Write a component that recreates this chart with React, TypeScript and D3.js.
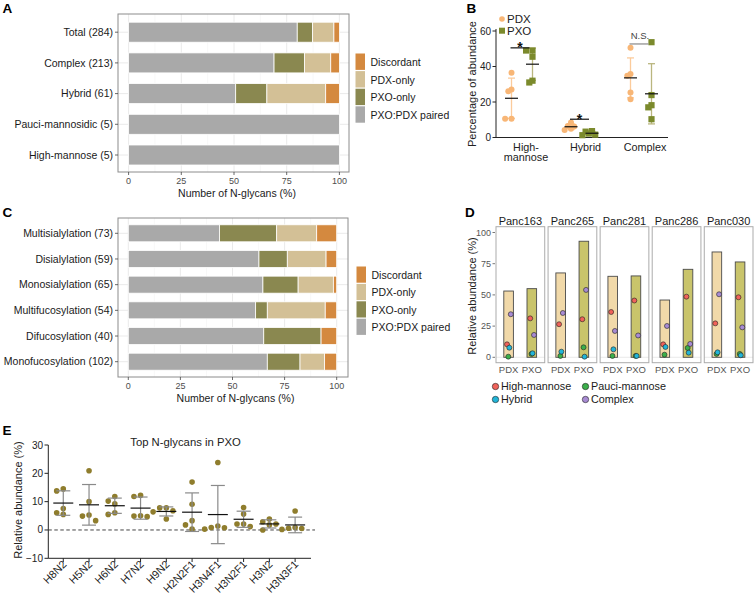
import React from 'react';
import * as d3 from 'd3';

// ---------------- Panel A data ----------------
const A_CATEGORIES = ['Total (284)', 'Complex (213)', 'Hybrid (61)', 'Pauci-mannosidic (5)', 'High-mannose (5)'];
const A_PAIRED = [80.0, 69.0, 50.8, 100, 100];
const A_PXO_ONLY = [7.3, 14.4, 14.8, 0, 0];
const A_PDX_ONLY = [10.1, 12.5, 27.9, 0, 0];
const A_DISCORDANT = [2.6, 4.1, 6.5, 0, 0];

// ---------------- Panel C data ----------------
const C_CATEGORIES = ['Multisialylation (73)', 'Disialylation (59)', 'Monosialylation (65)', 'Multifucosylation (54)', 'Difucosylation (40)', 'Monofucosylation (102)'];
const C_PAIRED = [43.8, 62.7, 64.6, 61.1, 65.0, 66.7];
const C_PXO_ONLY = [27.4, 13.6, 16.9, 5.6, 27.5, 15.7];
const C_PDX_ONLY = [19.2, 18.6, 16.9, 27.8, 0, 11.8];
const C_DISCORDANT = [9.6, 5.1, 1.6, 5.5, 7.5, 5.8];

const STACK_KEYS = ['PXO:PDX paired', 'PXO-only', 'PDX-only', 'Discordant'];
const STACK_COLORS = ['#a9a9a9', '#8a8850', '#d3c096', '#d4893f'];
const STACK_TICKS = [0, 25, 50, 75, 100];

// ---------------- Panel B data ----------------
const B_CATEGORIES = ['High-mannose', 'Hybrid', 'Complex'];
const B_PDX = [
  [36.5, 27, 26, 10.5, 10.5],
  [8.4, 6.5, 6.2, 5.0, 4.2],
  [50.5, 35.8, 34.8, 25.4, 21.5],
];
const B_PXO = [
  [49, 49, 45.5, 32, 31],
  [3.6, 3.3, 2.2, 1.6, 1.3],
  [53.7, 23.9, 18.2, 17.0, 10.3],
];
const B_SIGNIF = ['*', '*', 'N.S.'];
const B_SIGNIF_Y = [50.5, 10.3, 52.7];
const B_TICKS = [0, 20, 40, 60];

// ---------------- Panel D data ----------------
const D_SAMPLES = ['Panc163', 'Panc265', 'Panc281', 'Panc286', 'Panc030'];
const D_SOURCES = ['PDX', 'PXO'];
const D_TYPES = ['High-mannose', 'Pauci-mannose', 'Hybrid', 'Complex'];
const D_HIGHMAN_PDX = [10.4, 26.5, 36.3, 10.4, 27.2];
const D_HIGHMAN_PXO = [31.2, 30.5, 45.5, 48.6, 48.1];
const D_PAUCI_PDX = [0.5, 1.1, 1.1, 2.1, 2.7];
const D_PAUCI_PXO = [2.7, 8.0, 1.1, 7.5, 2.7];
const D_HYBRID_PDX = [7.7, 4.5, 6.4, 8.3, 4.0];
const D_HYBRID_PXO = [3.2, 0.5, 1.1, 3.7, 1.6];
const D_COMPLEX_PDX = [34.5, 35.5, 21.1, 25.1, 50.5];
const D_COMPLEX_PXO = [17.9, 54.0, 17.5, 10.7, 24.0];
const D_TICKS = [0, 25, 50, 75, 100];

// ---------------- Panel E data ----------------
const E_GLYCANS = ['H8N2', 'H5N2', 'H6N2', 'H7N2', 'H9N2', 'H2N2F1', 'H3N4F1', 'H3N2F1', 'H3N2', 'H3N3F1'];
const E_VALUES = [
  [14.5, 13.8, 7.6, 6.1, 5.5],
  [20.9, 10.0, 5.3, 4.9, 3.3],
  [11.8, 10.2, 9.2, 6.1, 5.5],
  [12.2, 11.8, 5.0, 4.9, 4.7],
  [7.8, 7.8, 6.8, 6.4, 3.9],
  [16.9, 9.1, 3.3, 1.8, 0.3],
  [23.8, 1.4, 0.9, 0.8, 0.3],
  [7.9, 5.6, 2.1, 2.1, 1.2],
  [3.9, 2.9, 2.1, 1.8, 0.0],
  [6.7, 0.9, 0.6, 0.5, 0.2],
];
const E_TICKS = [-10, 0, 10, 20, 30];

// ---------------- styles ----------------
const FONT = "'Liberation Sans', Arial, Helvetica, sans-serif";
const PDX_COLOR = '#f8b676';
const PXO_COLOR = '#7b8a2c';
const D_TYPE_COLORS = ['#f0625a', '#3baf4a', '#21b5d8', '#a88bd3'];
const D_BAR_COLORS = ['#f1d9a9', '#c9c46b'];

type Placed = { dx: number; y: number; v: number };
function swarm(vals: number[], y: (v: number) => number, minDist: number, step: number): Placed[] {
  const placed: Placed[] = [];
  vals.forEach((v) => {
    const py = y(v);
    const cands = [0, -1, 1, -2, 2, -3, 3];
    for (const k of cands) {
      const px = k * step;
      if (placed.every((p) => Math.hypot(p.dx - px, p.y - py) >= minDist)) {
        placed.push({ dx: px, y: py, v });
        return;
      }
    }
    placed.push({ dx: 0, y: py, v });
  });
  return placed;
}

const stackGen = d3.stack<any>().keys(STACK_KEYS);

function buildRows(cats: string[], paired: number[], pxo: number[], pdx: number[], disc: number[]) {
  return cats.map((c, i) => ({
    cat: c,
    'PXO:PDX paired': paired[i],
    'PXO-only': pxo[i],
    'PDX-only': pdx[i],
    Discordant: disc[i],
  }));
}

function StackPanel(props: {
  rows: any[];
  frame: { l: number; r: number; t: number; b: number };
  xRange: [number, number];
  yRange: [number, number];
  barH: number;
  legendX: number;
  legendY0: number;
  legendStep: number;
}) {
  const { rows, frame, xRange, yRange, barH, legendX, legendY0, legendStep } = props;
  const x = d3.scaleLinear().domain([0, 100]).range(xRange);
  const y = d3.scalePoint<string>().domain(rows.map((r) => r.cat)).range(yRange);
  const series = stackGen(rows);
  const minor = STACK_TICKS.slice(1).map((t, i) => (t + STACK_TICKS[i]) / 2);
  const legendOrder = [3, 2, 1, 0];
  return (
    <g>
      <rect x={frame.l} y={frame.t} width={frame.r - frame.l} height={frame.b - frame.t} fill="#fff" />
      {minor.map((t) => (
        <line key={'m' + t} x1={x(t)} x2={x(t)} y1={frame.t} y2={frame.b} stroke="#f3f3f3" strokeWidth={0.6} />
      ))}
      {STACK_TICKS.map((t) => (
        <line key={'g' + t} x1={x(t)} x2={x(t)} y1={frame.t} y2={frame.b} stroke="#e8e8e8" strokeWidth={0.9} />
      ))}
      {rows.map((r) => (
        <line key={'h' + r.cat} x1={frame.l} x2={frame.r} y1={y(r.cat)} y2={y(r.cat)} stroke="#e8e8e8" strokeWidth={0.9} />
      ))}
      {series.map((s, si) =>
        s.map((d, i) =>
          d[1] - d[0] > 0 ? (
            <rect
              key={si + '-' + i}
              x={x(d[0])}
              y={(y(rows[i].cat) as number) - barH / 2}
              width={x(d[1]) - x(d[0])}
              height={barH}
              fill={STACK_COLORS[si]}
              stroke="#fff"
              strokeWidth={0.8}
            />
          ) : null
        )
      )}
      <rect x={frame.l} y={frame.t} width={frame.r - frame.l} height={frame.b - frame.t} fill="none" stroke="#8c8c8c" strokeWidth={1} />
      {rows.map((r) => (
        <g key={'yl' + r.cat}>
          <line x1={frame.l - 3} x2={frame.l} y1={y(r.cat)} y2={y(r.cat)} stroke="#444" strokeWidth={0.8} />
          <text x={frame.l - 5} y={y(r.cat)} dy="0.35em" textAnchor="end" fontSize={10.5} fill="#1a1a1a">
            {r.cat}
          </text>
        </g>
      ))}
      {STACK_TICKS.map((t) => (
        <g key={'xl' + t}>
          <line x1={x(t)} x2={x(t)} y1={frame.b} y2={frame.b + 3} stroke="#444" strokeWidth={0.8} />
          <text x={x(t)} y={frame.b + 12} textAnchor="middle" fontSize={9} fill="#4d4d4d">
            {t}
          </text>
        </g>
      ))}
      <text x={(xRange[0] + xRange[1]) / 2 + 3} y={frame.b + 25} textAnchor="middle" fontSize={10.5} fill="#1a1a1a">
        Number of N-glycans (%)
      </text>
      {legendOrder.map((k, i) => (
        <g key={'lg' + k}>
          <rect x={legendX} y={legendY0 + i * legendStep} width={9.5} height={legendStep - 1.2} fill={STACK_COLORS[k]} />
          <text x={legendX + 15} y={legendY0 + i * legendStep + legendStep / 2} dy="0.35em" fontSize={10.5} fill="#1a1a1a">
            {STACK_KEYS[k]}
          </text>
        </g>
      ))}
    </g>
  );
}

function PanelB() {
  const y = d3.scaleLinear().domain([0, 60]).range([137.5, 31]);
  const gx = d3.scalePoint<string>().domain(B_CATEGORIES).range([522, 641]);
  const off = 10.5;
  return (
    <g>
      <line x1={496} x2={496} y1={29} y2={137.5} stroke="#222" strokeWidth={1} />
      <line x1={496} x2={668} y1={137.5} y2={137.5} stroke="#222" strokeWidth={1} />
      {B_TICKS.map((t) => (
        <g key={t}>
          <line x1={492.5} x2={496} y1={y(t)} y2={y(t)} stroke="#222" strokeWidth={1} />
          <text x={491} y={y(t)} dy="0.35em" textAnchor="end" fontSize={10} fill="#222">
            {t}
          </text>
        </g>
      ))}
      <text transform="translate(476,84) rotate(-90)" textAnchor="middle" fontSize={11} fill="#222">
        Percentage of abundance
      </text>
      {B_CATEGORIES.map((c, ci) => {
        const cx = gx(c) as number;
        const groups = [
          { vals: B_PDX[ci], x: cx - off, color: PDX_COLOR, bar: '#fbcb9b', shape: 'circle' },
          { vals: B_PXO[ci], x: cx + off, color: PXO_COLOR, bar: '#bab67f', shape: 'square' },
        ];
        const label = c === 'High-mannose' ? ['High-', 'mannose'] : [c];
        const sy = y(B_SIGNIF_Y[ci]);
        const isStar = B_SIGNIF[ci] === '*';
        return (
          <g key={c}>
            {groups.map((g, gi) => {
              const m = d3.mean(g.vals) as number;
              const sd = d3.deviation(g.vals) as number;
              const pts = swarm(g.vals, y, 3.6, 3.2);
              return (
                <g key={gi}>
                  <line x1={g.x} x2={g.x} y1={y(m + sd)} y2={y(Math.max(0, m - sd))} stroke={g.bar} strokeWidth={1.3} />
                  <line x1={g.x - 3.5} x2={g.x + 3.5} y1={y(m + sd)} y2={y(m + sd)} stroke={g.bar} strokeWidth={1.3} />
                  <line x1={g.x - 3.5} x2={g.x + 3.5} y1={y(Math.max(0, m - sd))} y2={y(Math.max(0, m - sd))} stroke={g.bar} strokeWidth={1.3} />
                  {pts.map((p, pi) =>
                    g.shape === 'circle' ? (
                      <circle key={pi} cx={g.x + p.dx} cy={p.y} r={3} fill={g.color} />
                    ) : (
                      <rect key={pi} x={g.x + p.dx - 3.1} y={p.y - 3.1} width={6.2} height={6.2} fill={g.color} />
                    )
                  )}
                  <line x1={g.x - 6.5} x2={g.x + 6.5} y1={y(m)} y2={y(m)} stroke="#111" strokeWidth={1.2} />
                </g>
              );
            })}
            <line x1={cx - off - 1} x2={cx + off - 3} y1={sy} y2={sy} stroke={isStar ? '#111' : '#888'} strokeWidth={1.2} />
            {isStar ? (
              <text x={cx - 2} y={sy + 4.5} textAnchor="middle" fontSize={14} fontWeight={700} fill="#111">
                *
              </text>
            ) : (
              <text x={cx - 1} y={sy - 4.5} textAnchor="middle" fontSize={9.5} fill="#444">
                {B_SIGNIF[ci]}
              </text>
            )}
            {label.map((l, li) => (
              <text key={li} x={cx + 4} y={150.5 + li * 10.8} textAnchor="middle" fontSize={10.8} fill="#222">
                {l}
              </text>
            ))}
          </g>
        );
      })}
      <circle cx={502} cy={19} r={2.8} fill={PDX_COLOR} />
      <text x={507} y={19} dy="0.35em" fontSize={11.5} fill="#222">PDX</text>
      <rect x={499} y={27.7} width={6} height={6} fill={PXO_COLOR} />
      <text x={507} y={30.7} dy="0.35em" fontSize={11.5} fill="#222">PXO</text>
    </g>
  );
}

function PanelD() {
  const y = d3.scaleLinear().domain([0, 100]).range([357.3, 232.5]);
  const px = d3.scaleBand<string>().domain(D_SAMPLES).range([496, 753]).paddingInner(0.064).paddingOuter(0);
  const sx = d3.scalePoint<string>().domain(D_SOURCES).range([12.6, 35.8]);
  const top = 226.7;
  const bottom = 362.7;
  const pdx = [D_HIGHMAN_PDX, D_PAUCI_PDX, D_HYBRID_PDX, D_COMPLEX_PDX];
  const pxo = [D_HIGHMAN_PXO, D_PAUCI_PXO, D_HYBRID_PXO, D_COMPLEX_PXO];
  const typeOffset = [-1.6, -0.3, 0.7, 2.2];
  const bw = px.bandwidth();
  return (
    <g>
      {D_TICKS.map((t) => (
        <g key={t}>
          <line x1={492.5} x2={495} y1={y(t)} y2={y(t)} stroke="#555" strokeWidth={0.8} />
          <text x={491} y={y(t)} dy="0.35em" textAnchor="end" fontSize={9} fill="#555">
            {t}
          </text>
        </g>
      ))}
      <text transform="translate(476,296) rotate(-90)" textAnchor="middle" fontSize={11} fill="#222">
        Relative abundance (%)
      </text>
      {D_SAMPLES.map((s, si) => {
        const x0 = px(s) as number;
        return (
          <g key={s}>
            <rect x={x0} y={top} width={bw} height={bottom - top} fill="#fff" />
            <line x1={x0} x2={x0 + bw} y1={y(0)} y2={y(0)} stroke="#e4e4e4" strokeWidth={0.8} />
            {D_SOURCES.map((src, k) => {
              const vals = (k === 0 ? pdx : pxo).map((arr) => arr[si]);
              const total = d3.sum(vals);
              const cx = x0 + (sx(src) as number);
              return (
                <g key={src}>
                  <rect x={cx - 4.8} y={y(total)} width={9.6} height={y(0) - y(total)} fill={D_BAR_COLORS[k]} stroke="#4a4a4a" strokeWidth={0.9} />
                  {vals.map((v, ti) => (
                    <circle key={ti} cx={cx + typeOffset[ti]} cy={y(v)} r={2.5} fill={D_TYPE_COLORS[ti]} stroke="#222" strokeWidth={0.6} />
                  ))}
                  <text x={cx} y={373} textAnchor="middle" fontSize={9.5} fill="#555">
                    {src}
                  </text>
                </g>
              );
            })}
            <rect x={x0} y={top} width={bw} height={bottom - top} fill="none" stroke="#ababab" strokeWidth={1} />
            <text x={x0 + bw / 2} y={224.5} textAnchor="middle" fontSize={11} fill="#1a1a1a">
              {s}
            </text>
          </g>
        );
      })}
      {D_TYPES.map((t, i) => {
        const lx = i % 2 === 0 ? 495.5 : 585.5;
        const ly = i < 2 ? 386.5 : 399.5;
        return (
          <g key={t}>
            <circle cx={lx} cy={ly} r={3.2} fill={D_TYPE_COLORS[i]} stroke="#222" strokeWidth={0.6} />
            <text x={lx + 5.5} y={ly} dy="0.35em" fontSize={10.8} fill="#1a1a1a">
              {t}
            </text>
          </g>
        );
      })}
    </g>
  );
}

function PanelE() {
  const y = d3.scaleLinear().domain([-10, 30]).range([558.3, 445]);
  const x = d3.scaleBand<string>().domain(E_GLYCANS).range([50.4, 308]);
  const bw = x.bandwidth();
  return (
    <g>
      <text x={185.5} y={445.5} textAnchor="middle" fontSize={11.3} fill="#222">
        Top N-glycans in PXO
      </text>
      <line x1={48.3} x2={48.3} y1={445} y2={558.3} stroke="#222" strokeWidth={1} />
      <line x1={48.3} x2={311} y1={558.3} y2={558.3} stroke="#222" strokeWidth={1} />
      <line x1={48.3} x2={315} y1={y(0)} y2={y(0)} stroke="#444" strokeWidth={1} strokeDasharray="3.5,2.5" />
      {E_TICKS.map((t) => (
        <g key={t}>
          <line x1={44.5} x2={48.3} y1={y(t)} y2={y(t)} stroke="#222" strokeWidth={1} />
          <text x={43} y={y(t)} dy="0.35em" textAnchor="end" fontSize={10} fill="#222">
            {t < 0 ? '\u2212' + Math.abs(t) : t}
          </text>
        </g>
      ))}
      <text transform="translate(22,500) rotate(-90)" textAnchor="middle" fontSize={11} fill="#222">
        Relative abundance (%)
      </text>
      {E_GLYCANS.map((g, gi) => {
        const cx = (x(g) as number) + bw / 2;
        const vals = E_VALUES[gi];
        const m = d3.mean(vals) as number;
        const sd = d3.deviation(vals) as number;
        const pts = swarm(vals, y, 5.8, 6.6);
        return (
          <g key={g}>
            {pts.map((p, pi) => (
              <circle key={pi} cx={cx + p.dx} cy={p.y} r={2.8} fill="#8f7d2d" />
            ))}
            <line x1={cx} x2={cx} y1={y(m + sd)} y2={y(m - sd)} stroke="#8a8a8a" strokeWidth={1.2} />
            <line x1={cx - 7} x2={cx + 7} y1={y(m + sd)} y2={y(m + sd)} stroke="#8a8a8a" strokeWidth={1.2} />
            <line x1={cx - 7} x2={cx + 7} y1={y(m - sd)} y2={y(m - sd)} stroke="#8a8a8a" strokeWidth={1.2} />
            <line x1={cx - 10} x2={cx + 10} y1={y(m)} y2={y(m)} stroke="#111" strokeWidth={1.2} />
            <line x1={cx} x2={cx} y1={558.3} y2={562} stroke="#222" strokeWidth={1} />
            <text transform={`translate(${cx + 4},${565}) rotate(-45)`} textAnchor="end" fontSize={10.8} fill="#222">
              {g}
            </text>
          </g>
        );
      })}
    </g>
  );
}

export default function App() {
  const rowsA = buildRows(A_CATEGORIES, A_PAIRED, A_PXO_ONLY, A_PDX_ONLY, A_DISCORDANT);
  const rowsC = buildRows(C_CATEGORIES, C_PAIRED, C_PXO_ONLY, C_PDX_ONLY, C_DISCORDANT);
  const letter = (t: string, x: number, y: number) => (
    <text x={x} y={y} fontSize={13.5} fontWeight={900} fill="#000">
      {t}
    </text>
  );
  return (
    <svg
      width={755}
      height={596}
      viewBox="0 0 755 596"
      style={{ position: 'absolute', left: 0, top: 0, background: '#fff', fontFamily: FONT }}
    >
      <rect x={0} y={0} width={755} height={596} fill="#fff" />
      {letter('A', 2.5, 12.5)}
      {letter('B', 466.5, 12.5)}
      {letter('C', 2.5, 216.8)}
      {letter('D', 465, 216.8)}
      {letter('E', 2.5, 435)}
      <StackPanel
        rows={rowsA}
        frame={{ l: 118, r: 349, t: 14, b: 172 }}
        xRange={[128.6, 339.4]}
        yRange={[32.2, 155]}
        barH={20}
        legendX={355.5}
        legendY0={53.5}
        legendStep={17.6}
      />
      <StackPanel
        rows={rowsC}
        frame={{ l: 118, r: 348, t: 218, b: 377 }}
        xRange={[128.3, 336.7]}
        yRange={[233.3, 361.7]}
        barH={17}
        legendX={356.5}
        legendY0={266.5}
        legendStep={17.4}
      />
      <PanelB />
      <PanelD />
      <PanelE />
    </svg>
  );
}
